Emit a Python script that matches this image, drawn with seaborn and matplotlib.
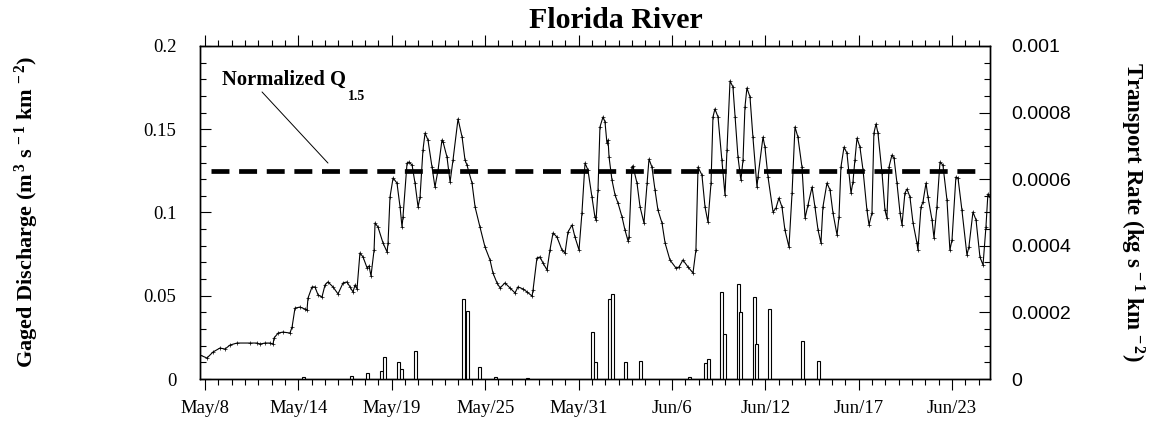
import numpy as np
import matplotlib
matplotlib.use("Agg")
import matplotlib.pyplot as plt
from matplotlib.ticker import MultipleLocator, FixedLocator, FuncFormatter
import seaborn as sns

# Gaged discharge, normalized by drainage area: time in days after May 8, value in m3 s-1 km-2
flow_days = [
    -0.31, 0.12, 0.49, 0.92, 1.23, 1.54, 1.97, 2.77, 3.20, 3.39, 3.69, 4.00, 4.19, 4.25, 4.50,
    4.80, 5.23, 5.36, 5.54, 5.85, 6.16, 6.28, 6.34, 6.59, 6.77, 6.96, 7.20, 7.39, 7.57, 7.88,
    8.19, 8.50, 8.74, 8.93, 9.11, 9.24, 9.36, 9.54, 9.73, 9.98, 10.10, 10.22, 10.41, 10.47, 10.65,
    10.96, 11.21, 11.27, 11.39, 11.58, 11.82, 12.01, 12.13, 12.19, 12.44, 12.56, 12.75, 12.93, 13.12,
    13.24, 13.42, 13.55, 13.73, 13.98, 14.16, 14.35, 14.59, 14.66, 14.90, 15.09, 15.27, 15.58, 15.83,
    16.01, 16.13, 16.44, 16.63, 16.93, 17.24, 17.55, 17.73, 17.98, 18.17, 18.47, 18.78, 19.09, 19.27,
    19.58, 19.83, 20.14, 20.20, 20.44, 20.63, 20.81, 21.06, 21.24, 21.43, 21.67, 21.98, 22.17, 22.35,
    22.60, 22.78, 23.03, 23.21, 23.40, 23.58, 23.83, 24.01, 24.08, 24.20, 24.32, 24.51, 24.63, 24.75,
    24.82, 24.88, 25.06, 25.25, 25.43, 25.68, 25.86, 26.05, 26.11, 26.29, 26.35, 26.60, 26.79, 27.03,
    27.22, 27.34, 27.52, 27.71, 27.89, 28.14, 28.33, 28.63, 29.00, 29.19, 29.43, 29.74, 30.05, 30.23,
    30.36, 30.60, 30.79, 30.97, 31.16, 31.28, 31.40, 31.59, 31.83, 32.02, 32.14, 32.33, 32.51, 32.64,
    32.82, 33.00, 33.13, 33.25, 33.37, 33.56, 33.74, 33.99, 34.05, 34.36, 34.48, 34.67, 34.98, 35.16,
    35.34, 35.53, 35.71, 35.96, 36.15, 36.33, 36.51, 36.76, 36.95, 37.13, 37.38, 37.56, 37.75, 37.93,
    38.05, 38.30, 38.49, 38.67, 38.92, 39.04, 39.16, 39.35, 39.53, 39.78, 39.90, 40.02, 40.15, 40.33,
    40.52, 40.76, 40.89, 41.07, 41.19, 41.32, 41.44, 41.69, 41.87, 41.99, 42.12, 42.30, 42.43, 42.61,
    42.80, 42.92, 43.10, 43.23, 43.41, 43.60, 43.84, 43.90, 44.09, 44.21, 44.40, 44.52, 44.77, 44.89,
    45.07, 45.26, 45.44, 45.69, 45.87, 46.00, 46.24, 46.37, 46.61, 46.92, 47.04, 47.29, 47.48, 47.72,
    47.91, 48.09, 48.21, 48.34,
]
flow_q = [
    0.0144, 0.0126, 0.0162, 0.0186, 0.0180, 0.0204, 0.0216, 0.0216, 0.0216, 0.0210, 0.0216, 0.0216, 0.0210, 0.0246, 0.0276,
    0.0282, 0.0276, 0.0312, 0.0426, 0.0432, 0.0420, 0.0414, 0.0486, 0.0553, 0.0553, 0.0505, 0.0492, 0.0565, 0.0583, 0.0553,
    0.0511, 0.0577, 0.0583, 0.0553, 0.0523, 0.0565, 0.0541, 0.0757, 0.0733, 0.0667, 0.0679, 0.0619, 0.0775, 0.0937, 0.0913,
    0.0817, 0.0763, 0.0817, 0.1093, 0.1207, 0.1177, 0.1033, 0.0913, 0.0973, 0.1297, 0.1303, 0.1285, 0.1177, 0.1033,
    0.1093, 0.1375, 0.1477, 0.1435, 0.1273, 0.1153, 0.1255, 0.1435, 0.1423, 0.1333, 0.1183, 0.1315, 0.1562, 0.1453,
    0.1315, 0.1285, 0.1177, 0.1033, 0.0913, 0.0793, 0.0715, 0.0637, 0.0577, 0.0547, 0.0577, 0.0547, 0.0517, 0.0553,
    0.0541, 0.0523, 0.0498, 0.0535, 0.0727, 0.0733, 0.0697, 0.0655, 0.0775, 0.0877, 0.0853, 0.0775, 0.0757, 0.0883,
    0.0925, 0.0853, 0.0775, 0.0997, 0.1297, 0.1255, 0.1093, 0.0973, 0.0955, 0.1135, 0.1514, 0.1574, 0.1544, 0.1417,
    0.1435, 0.1333, 0.1195, 0.1105, 0.1057, 0.0973, 0.0895, 0.0829, 0.0853, 0.1273, 0.1279, 0.1177, 0.1033, 0.0937,
    0.1177, 0.1321, 0.1273, 0.1135, 0.1015, 0.0937, 0.0817, 0.0715, 0.0667, 0.0673, 0.0715, 0.0673, 0.0637, 0.0775,
    0.1273, 0.1225, 0.1033, 0.0943, 0.1177, 0.1574, 0.1622, 0.1574, 0.1315, 0.1105, 0.1375, 0.1790, 0.1754, 0.1574,
    0.1333, 0.1195, 0.1315, 0.1634, 0.1748, 0.1694, 0.1453, 0.1153, 0.1213, 0.1453, 0.1393, 0.1213, 0.1003, 0.1027,
    0.1087, 0.1033, 0.0895, 0.0793, 0.1117, 0.1514, 0.1453, 0.1273, 0.0967, 0.1045, 0.1153, 0.1033, 0.0895, 0.0817,
    0.1033, 0.1177, 0.1135, 0.0997, 0.0865, 0.0973, 0.1273, 0.1393, 0.1357, 0.1117, 0.1183, 0.1315, 0.1447, 0.1393,
    0.1255, 0.1015, 0.0925, 0.0997, 0.1477, 0.1532, 0.1477, 0.1237, 0.1015, 0.0967, 0.1273, 0.1345, 0.1327, 0.1177,
    0.0997, 0.0925, 0.1117, 0.1141, 0.1093, 0.0937, 0.0817, 0.0775, 0.1033, 0.1063, 0.1177, 0.1093, 0.0955, 0.0847,
    0.1033, 0.1303, 0.1285, 0.1075, 0.0775, 0.0835, 0.1213, 0.1207, 0.1015, 0.0745, 0.0793, 0.1003, 0.0955, 0.0733,
    0.0685, 0.0913, 0.1111, 0.1093,
]

# Bedload samples: sample time in days after May 8, transport rate in kg s-1 km-2
sample_days = [
    5.97, 8.93, 9.91, 10.78, 10.96, 11.82, 11.98, 12.84, 15.83, 16.07, 16.81, 17.80, 19.77,
    23.77, 23.95, 24.82, 24.97, 25.80, 26.72, 29.74, 30.73, 30.91, 31.71, 31.90, 32.76, 32.88,
    33.74, 33.84, 34.67, 36.70, 37.69,
]
sample_rate = [
    0.000005, 0.000008, 0.000017, 0.000025, 0.000066, 0.000050, 0.000030, 0.000085, 0.000240,
    0.000204, 0.000035, 0.000005, 0.000003, 0.000140, 0.000052, 0.000240, 0.000255, 0.000050,
    0.000055, 0.000005, 0.000049, 0.000059, 0.000260, 0.000135, 0.000284, 0.000200, 0.000245,
    0.000105, 0.000210, 0.000114, 0.000054,
]

q_1_5 = 0.125
date_labels = ["May/8", "May/14", "May/19", "May/25", "May/31", "Jun/6", "Jun/12", "Jun/17", "Jun/23"]
date_step = 5.75

sns.set_theme(style="ticks")
plt.rcParams["font.family"] = ["Liberation Serif", "DejaVu Serif"]
plt.rcParams.update({
    "mathtext.fontset": "custom",
    "mathtext.rm": "Liberation Serif:bold",
    "mathtext.bf": "Liberation Serif:bold",
    "mathtext.it": "Liberation Serif:italic:bold",
    "mathtext.default": "rm",
    "axes.edgecolor": "black",
    "text.color": "black",
    "axes.labelcolor": "black",
    "xtick.color": "black",
    "ytick.color": "black",
    "xtick.labelcolor": "black",
    "ytick.labelcolor": "black",
})

W, H = 1150, 421
fig = plt.figure(figsize=(W / 100, H / 100), dpi=100)
fig.patch.set_facecolor("white")
ax = fig.add_axes([200 / W, 1 - 379 / H, 790 / W, 333 / H])
ax2 = ax.twinx()

# discharge hydrograph
sns.lineplot(x=flow_days, y=flow_q, ax=ax, color="black", linewidth=0.8,
             marker="+", markersize=2.4, markeredgewidth=0.5, markeredgecolor="black",
             sort=False, estimator=None, zorder=3)

# threshold discharge
ax.plot([0.37, 47.6], [q_1_5, q_1_5], color="black", linewidth=3.4,
        linestyle=(0, (3.8, 2.05)), dash_capstyle="butt", zorder=2)

label = ax.text(1.03, 0.1766, "Normalized Q", fontsize=14.8, fontweight="bold",
                va="baseline", ha="left")
ax.annotate("1.5", xy=(1, 0), xycoords=label, xytext=(1.8, -7.0), textcoords="offset points",
            fontsize=10, fontweight="bold", va="baseline", ha="left")
ax.plot([3.51, 7.57], [0.1724, 0.1297], color="black", linewidth=0.7)

# bedload transport samples
ax2.bar(sample_days, sample_rate, width=0.21, align="edge", facecolor="white",
        edgecolor="black", linewidth=0.8, zorder=2)

ax.set_xlim(-0.31, 48.34)
ax.set_ylim(0, 0.2)
ax2.set_ylim(0, 0.001)

ax.xaxis.set_major_locator(FixedLocator(np.arange(len(date_labels)) * date_step))
ax.set_xticklabels(date_labels)
ax.xaxis.set_minor_locator(MultipleLocator(date_step / 7))
ax.yaxis.set_major_locator(MultipleLocator(0.05))
ax.yaxis.set_minor_locator(MultipleLocator(0.01))
ax2.yaxis.set_major_locator(MultipleLocator(0.0002))
ax2.yaxis.set_minor_locator(MultipleLocator(0.00005))
fmt = FuncFormatter(lambda v, p: "%g" % round(v, 6))
ax.yaxis.set_major_formatter(fmt)
ax2.yaxis.set_major_formatter(fmt)

ax.tick_params(axis="x", which="both", direction="out", top=True, bottom=True,
               labeltop=False, width=0.8)
ax.tick_params(axis="x", which="major", length=8, pad=7, labelsize=13.5)
ax.tick_params(axis="x", which="minor", length=4)
ax.tick_params(axis="y", which="both", direction="in", left=True, right=False, width=0.8)
ax.tick_params(axis="y", which="major", length=8, pad=17, labelsize=13.5)
ax.tick_params(axis="y", which="minor", length=4)
ax2.tick_params(axis="y", which="both", direction="in", right=True, left=False, width=0.8)
ax2.tick_params(axis="y", which="major", length=8, pad=15, labelsize=14,
                labelfontfamily="Liberation Sans")
ax2.tick_params(axis="y", which="minor", length=4)

for a in (ax, ax2):
    for s in a.spines.values():
        s.set_linewidth(1.0)
        s.set_color("black")
ax.set_xlabel("")
ax.set_ylabel("")

fig.text(616 / W, 1 - 20 / H, "Florida River", fontsize=21.5, fontweight="bold",
         ha="center", va="center")
fig.text(27 / W, 1 - 212 / H, r"Gaged Discharge (m$^{\,3}$ s$^{\,-1}$ km$^{\,-2}$)",
         fontsize=16, fontweight="bold", rotation=90, ha="center", va="center")
fig.text(1132 / W, 1 - 212 / H, r"Transport Rate (kg s$^{\,-1}$ km$^{\,-2}$)",
         fontsize=16.5, fontweight="bold", rotation=270, ha="center", va="center")

fig.savefig("out.png", dpi=100, facecolor="white")
